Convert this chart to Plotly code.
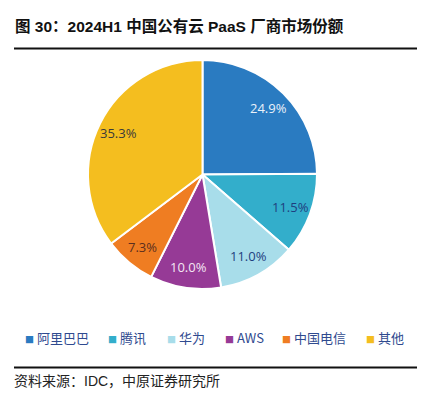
import math
import plotly.graph_objects as go

# ---- data ----
categories = ["阿里巴巴", "腾讯", "华为", "AWS", "中国电信", "其他"]
shares = [24.9, 11.5, 11.0, 10.0, 7.3, 35.3]
colors = ["#2A7BC1", "#33AECB", "#A8DDEA", "#963A96", "#EF7D22", "#F4BE1F"]
label_colors = ["#EAF2FA", "#1F3F7F", "#1F3F7F", "#F4E6F4", "#5B2E1E", "#3A3A3A"]
title_text = "图 30：2024H1 中国公有云 PaaS 厂商市场份额"
source_text = "资料来源：IDC，中原证券研究所"

W, H = 438, 397
CJK = "Noto Sans CJK SC"

# pie placement (pixels)
CX, CY, R = 202.5, 174.5, 114.5

fig = go.Figure()
fig.add_trace(go.Pie(
    labels=categories,
    values=shares,
    sort=False,
    direction="clockwise",
    rotation=0,
    marker=dict(colors=colors, line=dict(color="white", width=2)),
    textinfo="none",
    domain=dict(x=[(CX - R) / W, (CX + R) / W], y=[1 - (CY + R) / H, 1 - (CY - R) / H]),
    showlegend=False,
    hoverinfo="label+percent",
))

annotations = []

# value labels placed at each slice's mid-angle (derived from the data)
total = sum(shares)
cum = 0.0
for v, col in zip(shares, label_colors):
    mid = (cum + v / 2) / total * 2 * math.pi
    cum += v
    r = 0.82 * R
    px = CX + r * math.sin(mid)
    py = CY - r * math.cos(mid)
    annotations.append(dict(
        x=px / W, y=1 - py / H, xref="paper", yref="paper",
        xanchor="center", yanchor="middle", showarrow=False,
        text=f"{v:.1f}%",
        font=dict(family="Open Sans", size=13, color=col),
    ))

# legend built as text entries (single row, tight marker-text gap like the original)
def text_width(s, size):
    w = 0.0
    for ch in s:
        w += size * (0.62 if ord(ch) < 128 else 0.97)
    return w

leg_size = 13
x = 23
for name, col in zip(categories, colors):
    annotations.append(dict(
        x=x / W, y=1 - 337 / H, xref="paper", yref="paper",
        xanchor="left", yanchor="middle", showarrow=False,
        text=f'<span style="font-size:9px;color:{col}">■</span> {name}',
        font=dict(family=CJK, size=leg_size, color="#2F4A8F"),
    ))
    x += 10 + text_width(name, leg_size) + 23

annotations.append(dict(
    x=13 / W, y=1 - 26 / H, xref="paper", yref="paper",
    xanchor="left", yanchor="middle", showarrow=False,
    text=f"<b>{title_text}</b>",
    font=dict(family="Liberation Sans, " + CJK, size=15.5, color="#111111"),
))
annotations.append(dict(
    x=12 / W, y=1 - 381 / H, xref="paper", yref="paper",
    xanchor="left", yanchor="middle", showarrow=False,
    text=source_text,
    font=dict(family="Liberation Sans, " + CJK, size=14, color="#222222"),
))

shapes = [
    dict(type="line", xref="paper", yref="paper", x0=14 / W, x1=417 / W,
         y0=1 - 48.5 / H, y1=1 - 48.5 / H, line=dict(color="#111111", width=2.2)),
    dict(type="line", xref="paper", yref="paper", x0=14 / W, x1=417 / W,
         y0=1 - 367.5 / H, y1=1 - 367.5 / H, line=dict(color="#111111", width=2.2)),
]

fig.update_layout(
    width=W, height=H,
    margin=dict(l=0, r=0, t=0, b=0),
    paper_bgcolor="white", plot_bgcolor="white",
    annotations=annotations, shapes=shapes,
    showlegend=False,
)

fig.write_html("out.html", config={"displayModeBar": False},
               post_script="document.body.style.margin='0';")
